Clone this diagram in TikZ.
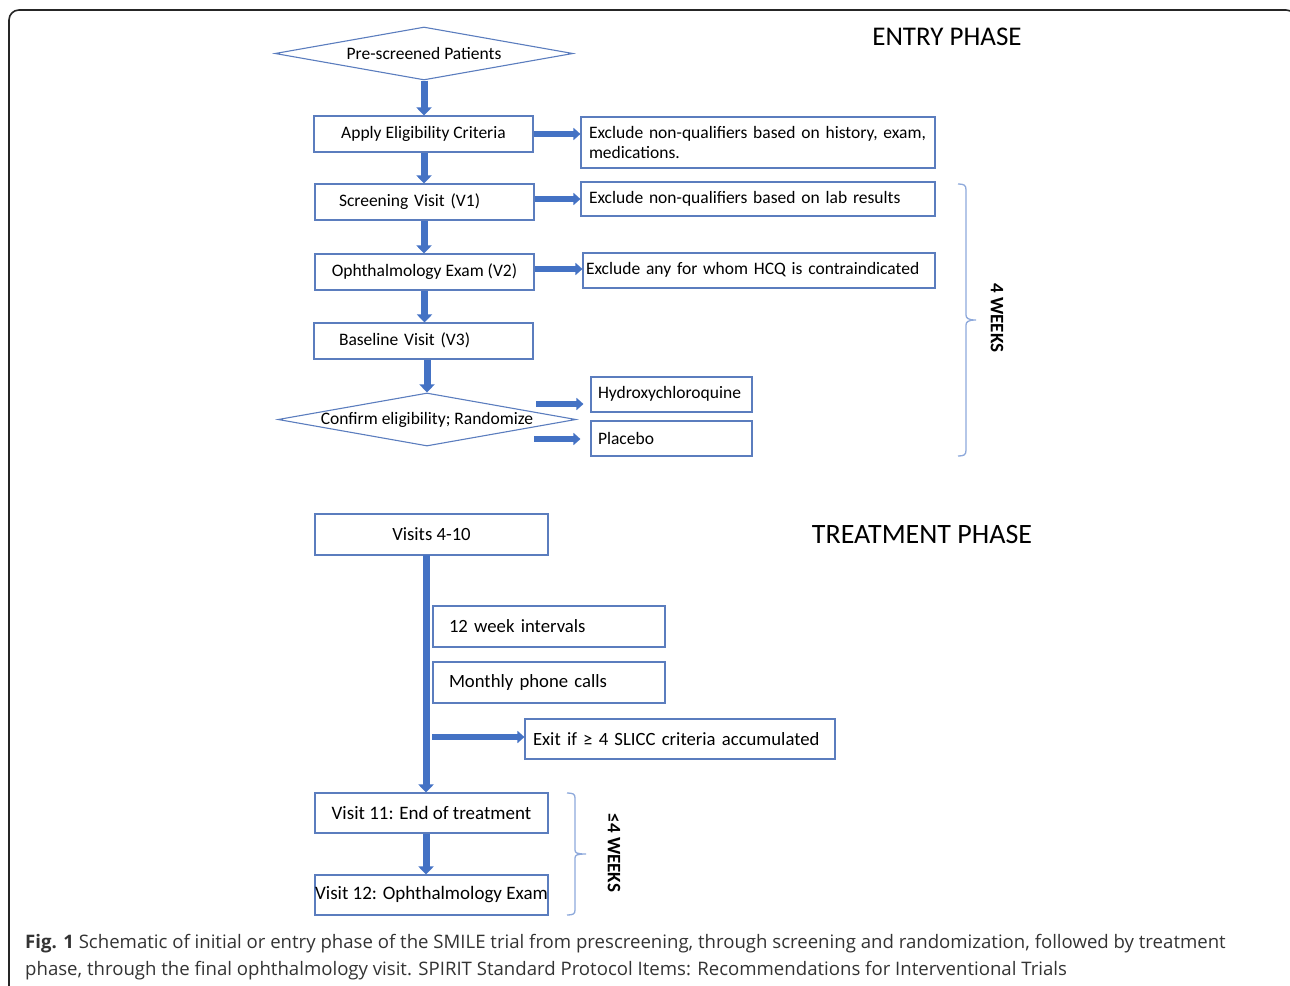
\documentclass[tikz,border=0pt]{standalone}
\usepackage{fontspec}
\setmainfont{Carlito}
\newfontfamily\capfont{Open Sans}
\usetikzlibrary{arrows.meta,shapes.geometric}
\definecolor{boxline}{HTML}{5B7DBE}
\definecolor{arrowblue}{HTML}{4472C4}
\definecolor{bracecol}{HTML}{8EA9DB}
\definecolor{captext}{HTML}{333333}
\tikzset{
  box/.style={draw=boxline, line width=1.1pt, inner sep=0pt, font=\fontsize{17.5}{20}\selectfont},
  lbox/.style={box, align=left},
  tbox/.style={box, font=\fontsize{18.7}{21}\selectfont},
  tlbox/.style={tbox, align=left},
  diam/.style={draw=boxline, line width=1.1pt, diamond, aspect=5.6, inner sep=0pt,
               minimum width=298pt, minimum height=53pt, font=\fontsize{17.5}{20}\selectfont},
  varrow/.style={draw=arrowblue, line width=7pt, -{Triangle[length=8pt, width=15pt]}},
  harrow/.style={draw=arrowblue, line width=5.5pt, -{Triangle[length=7pt, width=12pt]}},
  bracepath/.style={draw=bracecol, line width=1.3pt},
  phase/.style={font=\fontsize{27}{30}\selectfont},
  weeks/.style={font=\fontsize{19}{22}\selectfont\bfseries, rotate=-90},
  captionline/.style={anchor=base west, inner sep=0pt, text=captext, font=\capfont\fontsize{18.6}{22}\selectfont}
}
\begin{document}
\begin{tikzpicture}[x=1pt,y=-1pt]
\useasboundingbox (0,0) rectangle (1290,985);
% frame
\draw[line width=1.6pt, black!85, rounded corners=10pt] (9,1010) -- (9,10) -- (1296,10) -- (1296,1010);

% entry phase
\node[phase] (entry) at (947,37) {ENTRY PHASE};
\node[diam] (pre) at (424,53.5) {Pre-screened Patients};
\node[box, minimum width=219pt, minimum height=36pt, text depth=4pt] (apply) at (423.5,134) {Apply Eligibility Criteria};
\node[lbox, minimum height=51pt, text width=338pt, inner xsep=8pt] (ex1) at (758,142.5)
  {Exclude non-qualifiers based on history, exam,\\medications.};
\node[lbox, minimum height=36pt, text width=171pt, inner xsep=24pt, text depth=4pt] (scr) at (424.5,202) {Screening Visit (V1)};
\node[lbox, minimum height=34pt, text width=338pt, inner xsep=8pt] (ex2) at (758,199) {Exclude non-qualifiers based on lab results};
\node[box, minimum width=219pt, minimum height=36pt, text depth=4pt] (oph) at (424.5,272) {Ophthalmology Exam (V2)};
\node[lbox, minimum height=35pt, text width=346pt, inner xsep=3pt, text depth=4pt] (ex3) at (759,270.5) {Exclude any for whom HCQ is contraindicated};
\node[lbox, minimum height=36pt, text width=169pt, inner xsep=25pt, text depth=4pt] (base) at (423.5,341) {Baseline Visit (V3)};
\node[diam] (conf) at (427,419.5) {Confirm eligibility; Randomize};
\node[lbox, minimum height=35pt, text width=147pt, inner xsep=7pt, text depth=4pt] (hcq) at (671.5,394.5) {Hydroxychloroquine};
\node[lbox, minimum height=35pt, text width=147pt, inner xsep=7pt] (plc) at (671.5,438.5) {Placebo};

\draw[varrow] (pre.south) -- (pre.south |- apply.north);
\draw[varrow] (apply.south -| pre.south) -- (pre.south |- scr.north);
\draw[varrow] (scr.south -| pre.south) -- (pre.south |- oph.north);
\draw[varrow] (oph.south) -- (oph.south |- base.north);
\draw[varrow] (base.south -| conf.north) -- (conf.north);

\draw[harrow] (apply.east) -- (apply.east -| ex1.west);
\draw[harrow] (scr.east |- ex2.west) -- (ex2.west);
\draw[harrow] (oph.east |- 0,269) -- (ex3.west |- 0,269);
\coordinate (r1) at (536,404);
\coordinate (r2) at (534,439);
\draw[harrow] (r1) -- ([xshift=-7pt]r1 -| hcq.west);
\draw[harrow] (r2) -- ([xshift=-10pt]r2 -| plc.west);

% brace 4 weeks
\draw[bracepath] (958,184) .. controls (964,184) and (966,185) .. (966,190) -- (966,315)
  .. controls (966,318) and (968,320) .. (976,320)
  .. controls (968,320) and (966,322) .. (966,325) -- (966,450)
  .. controls (966,455) and (964,456) .. (958,456);
\node[weeks] (w4) at (997,318) {4 WEEKS};

% treatment phase
\node[phase, font=\fontsize{28}{31}\selectfont] (treat) at (922,535) {TREATMENT PHASE};
\node[tbox, minimum width=233pt, minimum height=41pt] (v410) at (431.5,534.5) {Visits 4-10};
\node[tlbox, minimum height=41pt, text width=200pt, inner xsep=16pt] (w12) at (549,626.5) {12 week intervals};
\node[tlbox, minimum height=41pt, text width=200pt, inner xsep=16pt] (mon) at (549,682.5) {Monthly phone calls};
\node[tlbox, minimum height=40pt, text width=294pt, inner xsep=8pt] (exit) at (680,739) {Exit if ≥ 4 SLICC criteria accumulated};
\node[tbox, minimum width=233pt, minimum height=40pt, font=\fontsize{19}{22}\selectfont] (v11) at (431.5,813) {Visit 11: End of treatment};
\node[tbox, minimum width=233pt, minimum height=40pt, font=\fontsize{19}{22}\selectfont] (v12) at (431.5,895) {Visit 12: Ophthalmology Exam};

\coordinate (t0) at (426,555);
\draw[varrow] (t0) -- (t0 |- v11.north);
\coordinate (es) at (432,737);
\draw[harrow] (es) -- (es -| exit.west);
\draw[varrow] (v11.south -| t0) -- (t0 |- v12.north);

\draw[bracepath] (567,793) .. controls (573,793) and (575,794) .. (575,798) -- (575,850)
  .. controls (575,853) and (577,854) .. (586,854)
  .. controls (577,854) and (575,855) .. (575,858) -- (575,910)
  .. controls (575,914) and (573,915) .. (567,915);
\node[weeks] (w4b) at (614,853) {≤4 WEEKS};

% caption
\node[captionline] (cap1) at (25,948) {\textbf{Fig. 1} Schematic of initial or entry phase of the SMILE trial from prescreening, through screening and randomization, followed by treatment};
\node[captionline] (cap2) at (25,975) {phase, through the final ophthalmology visit. SPIRIT Standard Protocol Items: Recommendations for Interventional Trials};
\end{tikzpicture}
\end{document}
